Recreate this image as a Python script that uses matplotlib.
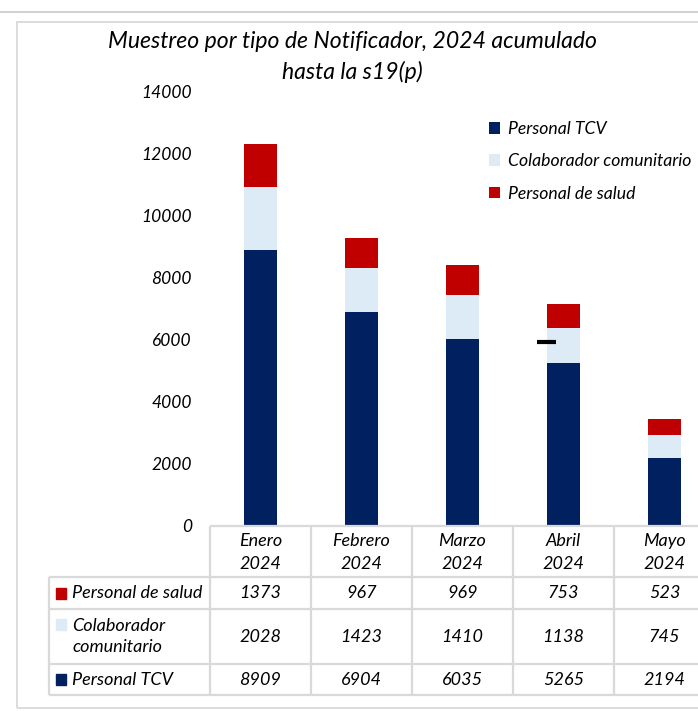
import matplotlib.pyplot as plt
from matplotlib.lines import Line2D
from matplotlib.patches import Rectangle

plt.rcParams['font.family'] = ['Lato', 'DejaVu Sans']
plt.rcParams['font.style'] = 'italic'

meses = ["Enero\n2024", "Febrero\n2024", "Marzo\n2024", "Abril\n2024", "Mayo\n2024"]
tcv = [8909, 6904, 6035, 5265, 2194]
colaborador = [2028, 1423, 1410, 1138, 745]
salud = [1373, 967, 969, 753, 523]
yticks = [0, 2000, 4000, 6000, 8000, 10000, 12000, 14000]
marca_abril = 5935

C_TCV = "#002060"
C_COL = "#DDEBF7"
C_SAL = "#C00000"
GRIS = "#d9d9d9"

W, H = 698, 711
fig = plt.figure(figsize=(W / 100, H / 100), dpi=100)


def fx(px):
    return px / W


def fy(py):
    return 1 - py / H


# marcos exteriores
fig.add_artist(Line2D([0, 1], [fy(11.5), fy(11.5)], color="#c8c8c8", lw=1.2))
fig.add_artist(Rectangle((fx(17), fy(708)), fx(720) - fx(17), fy(22) - fy(708),
                         fill=False, edgecolor=GRIS, lw=1.3))

# grafico de barras
col_w = 101
ax = fig.add_axes([fx(210), fy(526), fx(210 + 5 * col_w) - fx(210), fy(92) - fy(526)])
x = list(range(len(meses)))
base2 = [a + b for a, b in zip(tcv, colaborador)]
ax.bar(x, tcv, width=0.32, color=C_TCV, label="Personal TCV")
ax.bar(x, colaborador, width=0.32, bottom=tcv, color=C_COL, label="Colaborador comunitario")
ax.bar(x, salud, width=0.32, bottom=base2, color=C_SAL, label="Personal de salud")
ax.plot([2.74, 2.93], [marca_abril, marca_abril], color="black", lw=3, solid_capstyle="butt")
ax.set_xlim(-0.5, len(meses) - 0.5)
ax.set_ylim(0, 14000)
ax.set_yticks(yticks)
ax.set_yticklabels([str(v) for v in yticks], fontsize=12.5)
ax.tick_params(axis="y", length=0, pad=13)
ax.set_xticks([])
for s in ["top", "right", "left", "bottom"]:
    ax.spines[s].set_visible(False)

leg = ax.legend(loc="upper left", bbox_to_anchor=((489 - 210) / (5 * col_w), (526 - 121) / 434),
                frameon=False, fontsize=12.7, handlelength=0.62, handleheight=0.62,
                handletextpad=0.45, labelspacing=0.93, borderaxespad=0, borderpad=0)

fig.text(fx(352), fy(42), "Muestreo por tipo de Notificador, 2024 acumulado",
         ha="center", va="center", fontsize=16.6)
fig.text(fx(352), fy(72), "hasta la s19(p)", ha="center", va="center", fontsize=16.6)

# tabla de datos
left_px = 49
tab = fig.add_axes([fx(left_px), fy(695), fx(210 + 5 * col_w) - fx(left_px), fy(526) - fy(695)])
x0 = -0.5 - (210 - left_px) / col_w
tab.set_xlim(x0, len(meses) - 0.5)
tab.set_ylim(695, 526)
tab.axis("off")

filas = [("Personal de salud", salud, C_SAL, 577, 609),
         ("Colaborador\ncomunitario", colaborador, C_COL, 609, 664),
         ("Personal TCV", tcv, C_TCV, 664, 695)]
lkw = dict(color=GRIS, lw=1.6, solid_capstyle="butt", clip_on=False)
fs = 13

# encabezado
tab.plot([-0.5, len(meses) - 0.5], [526, 526], **lkw)
for i, m in enumerate(meses):
    tab.text(i, 552.5, m, ha="center", va="center", fontsize=fs, linespacing=1.5)
for i in range(len(meses) + 1):
    tab.plot([i - 0.5, i - 0.5], [526, 695], **lkw)
tab.plot([x0, len(meses) - 0.5], [577, 577], **lkw)
tab.plot([x0, x0], [577, 695], **lkw)

for nombre, vals, color, y0, y1 in filas:
    yc = (y0 + y1) / 2
    tab.plot([x0, len(meses) - 0.5], [y1, y1], **lkw)
    if "\n" in nombre:
        tab.add_patch(Rectangle((x0 + 0.07, 630), 0.1, -11, color=color, clip_on=False))
        tab.text(x0 + 0.23, yc, nombre, ha="left", va="center", fontsize=fs, linespacing=1.45)
    else:
        tab.add_patch(Rectangle((x0 + 0.07, yc + 5.5), 0.1, -11, color=color, clip_on=False))
        tab.text(x0 + 0.23, yc, nombre, ha="left", va="center", fontsize=fs)
    for i, v in enumerate(vals):
        tab.text(i, yc, str(v), ha="center", va="center", fontsize=fs)

fig.savefig("out.png", dpi=100)
